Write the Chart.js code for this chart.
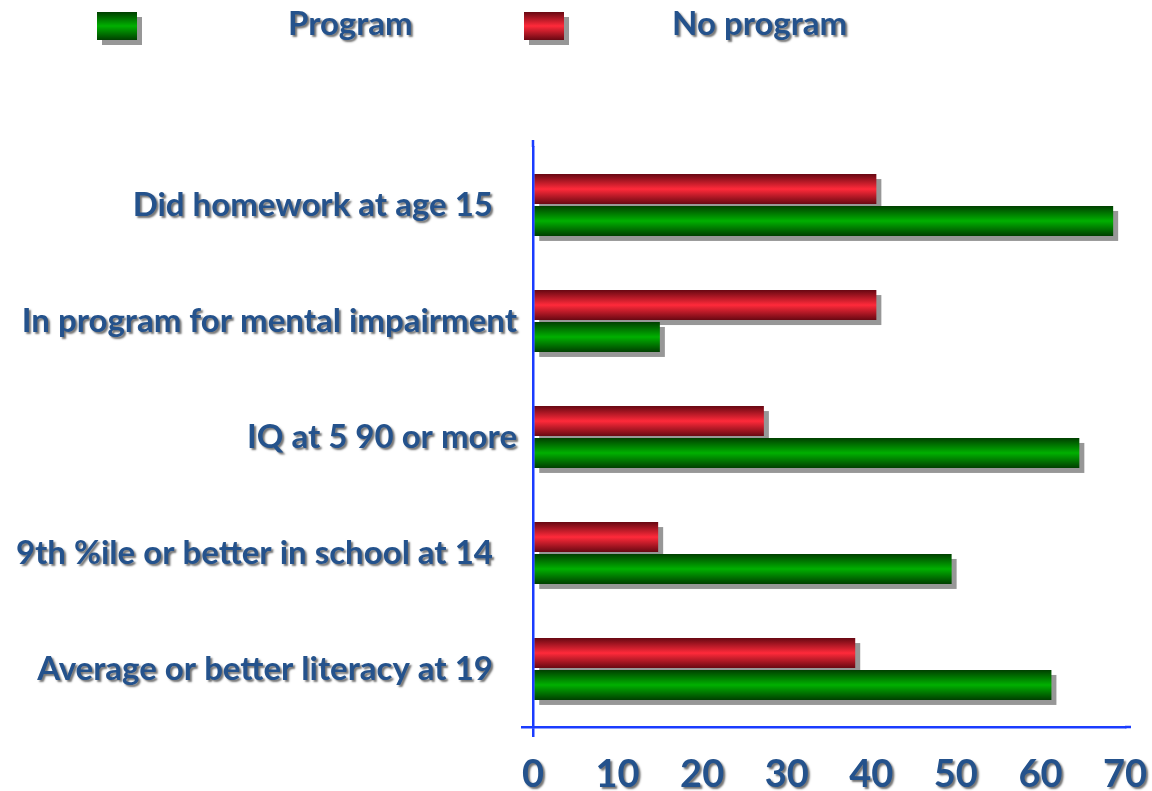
<!DOCTYPE html>
<html>
<head>
<meta charset="utf-8">
<script src="https://cdn.jsdelivr.net/npm/chart.js@4.4.0/dist/chart.umd.min.js"></script>
<style>
html, body { margin: 0; padding: 0; background: #fff; }
#wrap { width: 1152px; height: 791px; }
</style>
</head>
<body>
<div id="wrap"><canvas id="myChart" width="1152" height="791"></canvas></div>
<script>
// values (percent)
const categories = [
  "Did homework at age 15   ",
  "In program for mental impairment",
  "IQ at 5 90 or more",
  "9th %ile or better in school at 14   ",
  "Average or better literacy at 19   "
];
const programValues = [68.6, 15, 64.6, 49.5, 61.3];
const noProgramValues = [40.6, 40.6, 27.3, 14.8, 38.1];
const xTicks = [0, 10, 20, 30, 40, 50, 60, 70];

const blue = '#1a3cff';
const textBlue = '#24528c';
const shadowGray = '#979797';
const green = { edge: '#003f00', mid: '#00b000' };
const red = { edge: '#680812', mid: '#ff2a3a' };

function makeGrad(ctx, top, bottom, col) {
  const g = ctx.createLinearGradient(0, top, 0, bottom);
  g.addColorStop(0, col.edge);
  g.addColorStop(0.5, col.mid);
  g.addColorStop(1, col.edge);
  return g;
}

function textShadow(c) {
  c.shadowColor = 'rgba(0,0,0,0.55)';
  c.shadowOffsetX = 2;
  c.shadowOffsetY = 2;
  c.shadowBlur = 2;
}

// gray drop shadows first, then gradients on the bars
const barLook = {
  id: 'barLook',
  beforeDatasetsDraw(chart) {
    const c = chart.ctx;
    c.save();
    c.fillStyle = shadowGray;
    chart.data.datasets.forEach((ds, di) => {
      chart.getDatasetMeta(di).data.forEach(el => {
        const p = el.getProps(['x', 'y', 'base', 'height']);
        const left = Math.min(p.base, p.x);
        c.fillRect(left + 5, p.y - p.height / 2 + 5, Math.abs(p.x - p.base), p.height);
      });
    });
    c.restore();
    chart.data.datasets.forEach((ds, di) => {
      chart.getDatasetMeta(di).data.forEach(el => {
        const p = el.getProps(['y', 'height']);
        el.options.backgroundColor = makeGrad(c, p.y - p.height / 2, p.y + p.height / 2, ds.look);
      });
    });
  },
  // axis lines run a little past the plot area
  afterDraw(chart) {
    const c = chart.ctx, a = chart.chartArea;
    c.save();
    c.strokeStyle = blue;
    c.lineWidth = 2.5;
    c.beginPath();
    c.moveTo(a.left, a.top);
    c.lineTo(a.left, a.top - 7);
    c.moveTo(a.right, a.bottom);
    c.lineTo(a.right + 6, a.bottom);
    c.stroke();
    c.restore();
  }
};

// shadowed tick labels
const labelShadow = {
  id: 'labelShadow',
  beforeDraw(chart) {
    Object.values(chart.scales).forEach(s => {
      if (s._wrapped) return;
      const orig = s.drawLabels.bind(s);
      s.drawLabels = function (area) {
        const c = chart.ctx;
        c.save();
        textShadow(c);
        orig(area);
        c.restore();
      };
      s._wrapped = true;
    });
  }
};

const topLegend = {
  id: 'topLegend',
  afterDraw(chart, args, opts) {
    const c = chart.ctx;
    const items = chart.data.datasets.slice().reverse();
    items.forEach((ds, i) => {
      const bx = opts.boxX[i];
      const by = opts.y;
      c.save();
      c.fillStyle = shadowGray;
      c.fillRect(bx + 5, by + 5, opts.box, opts.boxH);
      c.fillStyle = makeGrad(c, by, by + opts.boxH, ds.look);
      c.fillRect(bx, by, opts.box, opts.boxH);
      c.restore();
      c.save();
      textShadow(c);
      c.font = 'bold 33px Lato';
      c.fillStyle = textBlue;
      c.textBaseline = 'middle';
      c.textAlign = 'left';
      c.fillText(ds.label, opts.textX[i], by + opts.boxH / 2 - 2);
      c.restore();
    });
  }
};

const ctx = document.getElementById('myChart').getContext('2d');
const chart = new Chart(ctx, {
  type: 'bar',
  data: {
    labels: categories,
    datasets: [
      { label: 'No program', data: noProgramValues, look: red, backgroundColor: () => red.mid },
      { label: 'Program', data: programValues, look: green, backgroundColor: () => green.mid }
    ]
  },
  options: {
    indexAxis: 'y',
    responsive: false,
    animation: false,
    layout: { padding: { top: 147, right: 27, left: 0, bottom: 0 } },
    datasets: { bar: { categoryPercentage: 0.55, barPercentage: 0.94 } },
    plugins: {
      legend: { display: false },
      tooltip: { enabled: false },
      topLegend: { boxX: [97, 524], textX: [288, 672], y: 12, box: 40, boxH: 28 }
    },
    scales: {
      x: {
        min: 0,
        max: 70,
        afterBuildTicks: s => { s.ticks = xTicks.map(v => ({ value: v })); },
        grid: {
          drawOnChartArea: false, tickLength: 10, lineWidth: 2.5, z: 1,
          color: c => (c.tick && c.tick.value === 0) ? blue : 'rgba(0,0,0,0)'
        },
        border: { color: blue, width: 2.5, z: 1 },
        ticks: { font: { family: 'Lato', weight: 'bold', size: 38 }, color: textBlue, padding: 15, z: 1 },
        afterFit: s => { s.height = 64; s.paddingLeft = 0; s.paddingRight = 0; }
      },
      y: {
        grid: {
          drawOnChartArea: false, tickLength: 12, lineWidth: 2.5, z: 1,
          color: c => (c.index === undefined) ? blue : 'rgba(0,0,0,0)'
        },
        border: { color: blue, width: 2.5, z: 1 },
        ticks: { font: { family: 'Lato', weight: 'bold', size: 33 }, color: textBlue, padding: 4, z: 1 },
        afterFit: s => { s.width = 533; s.paddingTop = 0; s.paddingBottom = 0; }
      }
    }
  },
  plugins: [barLook, labelShadow, topLegend]
});
</script>
</body>
</html>
